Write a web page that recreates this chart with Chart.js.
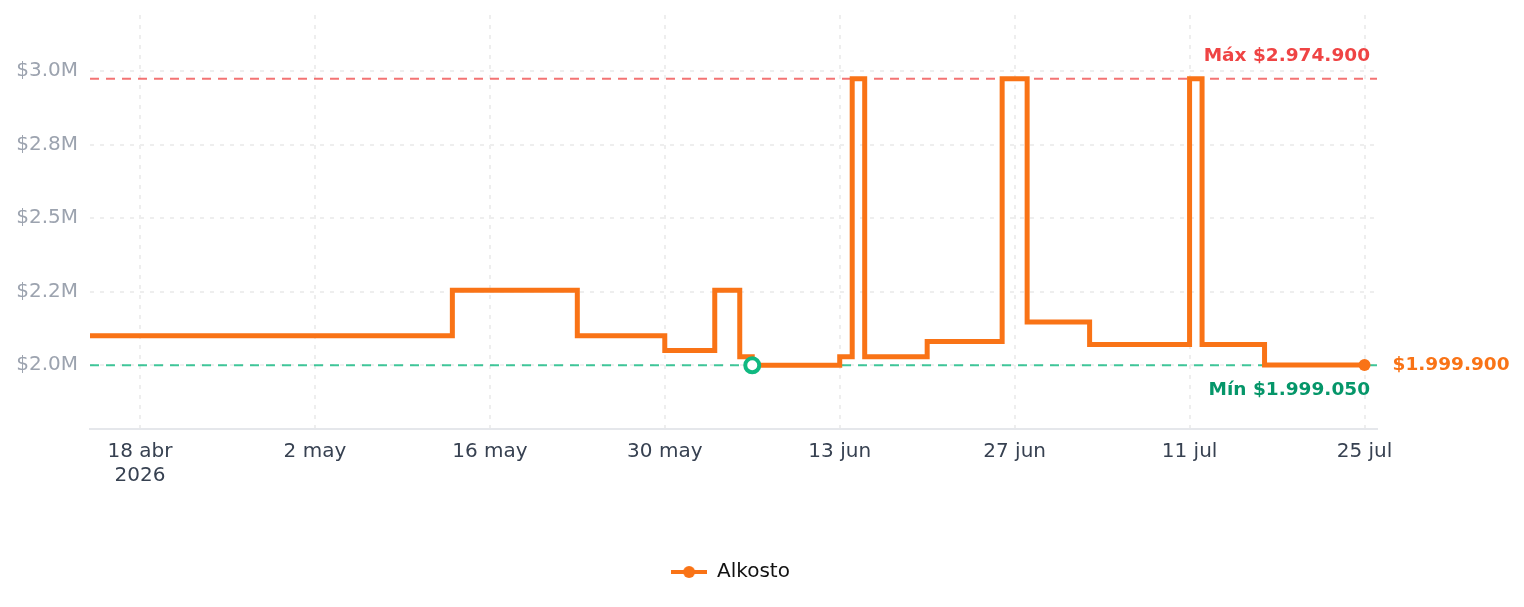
<!DOCTYPE html>
<html>
<head>
<meta charset="utf-8">
<script src="https://cdn.jsdelivr.net/npm/chart.js@4.4.1/dist/chart.umd.min.js"></script>
<style>
  html, body { margin: 0; padding: 0; background: #fff; }
  #wrap { width: 1524px; height: 607px; }
</style>
</head>
<body>
<div id="wrap"><canvas id="priceChart"></canvas></div>
<script>
// price history (Alkosto) - each date is when the price changed
const startDate = '2026-04-14';
const endDate = '2026-07-26';
const changeDates = ['2026-04-14', '2026-05-13', '2026-05-23', '2026-05-30', '2026-06-03', '2026-06-05',
  '2026-06-06', '2026-06-13', '2026-06-14', '2026-06-15', '2026-06-20', '2026-06-26', '2026-06-28',
  '2026-07-03', '2026-07-11', '2026-07-12', '2026-07-17', '2026-07-25'];
const alkostoPrices = [2099900, 2254900, 2099900, 2049900, 2254900, 2027900,
  1999050, 2027900, 2974900, 2027900, 2079900, 2974900, 2146900,
  2069900, 2974900, 2069900, 1999900, 1999900];

const tickDates = ['2026-04-18', '2026-05-02', '2026-05-16', '2026-05-30', '2026-06-13', '2026-06-27', '2026-07-11', '2026-07-25'];
const tickLabels = [['18 abr', '2026'], '2 may', '16 may', '30 may', '13 jun', '27 jun', '11 jul', '25 jul'];
const yTickValues = [2000000, 2250000, 2500000, 2750000, 3000000];
const yTickLabels = ['$2.0M', '$2.2M', '$2.5M', '$2.8M', '$3.0M'];

const maxPrice = 2974900;
const minPrice = 1999050;
const minDate = '2026-06-06';
const lastPrice = 1999900;

const ORANGE = '#f97316';
const FONT = 'DejaVu Sans';

function dayOf(s) {
  const a = s.split('-').map(Number);
  const b = startDate.split('-').map(Number);
  return Math.round((Date.UTC(a[0], a[1] - 1, a[2]) - Date.UTC(b[0], b[1] - 1, b[2])) / 86400000);
}
function fmt(n) {
  return '$' + n.toString().replace(/\B(?=(\d{3})+(?!\d))/g, '.');
}

const lastDay = dayOf(endDate);
const points = changeDates.map((d, i) => ({ x: dayOf(d), y: alkostoPrices[i] }));

// legend icon: line with a dot
const legendIcon = document.createElement('canvas');
legendIcon.width = 36; legendIcon.height = 14;
(function () {
  const c = legendIcon.getContext('2d');
  c.strokeStyle = ORANGE; c.lineWidth = 4;
  c.beginPath(); c.moveTo(0, 7); c.lineTo(36, 7); c.stroke();
  c.fillStyle = ORANGE;
  c.beginPath(); c.arc(18, 7, 6, 0, Math.PI * 2); c.fill();
})();

const labelPlugin = {
  id: 'priceLabels',
  afterLayout(chart) {
    // legend sits a bit right of the canvas centre
    if (chart.legend) { chart.legend.left += 42; chart.legend.right += 42; }
  },
  afterDatasetsDraw(chart) {
    const { ctx, chartArea, scales: { x, y } } = chart;
    ctx.save();
    ctx.font = 'bold 18.5px "' + FONT + '"';
    ctx.textAlign = 'right';
    ctx.textBaseline = 'alphabetic';
    ctx.fillStyle = '#ef4444';
    ctx.fillText('Máx ' + fmt(maxPrice), chartArea.right - 7, y.getPixelForValue(maxPrice) - 18);
    ctx.fillStyle = '#059669';
    ctx.fillText('Mín ' + fmt(minPrice), chartArea.right - 7, y.getPixelForValue(minPrice) + 30);
    ctx.textAlign = 'left';
    ctx.textBaseline = 'middle';
    ctx.fillStyle = ORANGE;
    const last = points[points.length - 1];
    ctx.fillText(fmt(lastPrice), x.getPixelForValue(last.x) + 28, y.getPixelForValue(lastPrice));
    ctx.restore();
  }
};

new Chart(document.getElementById('priceChart').getContext('2d'), {
  type: 'line',
  data: {
    datasets: [{
      label: 'Alkosto',
      data: points,
      stepped: true,
      borderColor: ORANGE,
      backgroundColor: ORANGE,
      borderWidth: 5,
      pointRadius: ctx => ctx.dataIndex === points.length - 1 ? 6 : 0,
      pointBorderWidth: 0,
      pointBackgroundColor: ORANGE,
      order: 1
    }, {
      label: 'max',
      data: [{ x: 0, y: maxPrice }, { x: lastDay, y: maxPrice }],
      borderColor: 'rgba(239, 68, 68, 0.75)',
      borderWidth: 2,
      borderDash: [9, 7],
      pointRadius: 0,
      order: 2
    }, {
      label: 'min',
      data: [{ x: 0, y: minPrice }, { x: lastDay, y: minPrice }],
      borderColor: 'rgba(16, 185, 129, 0.8)',
      borderWidth: 2,
      borderDash: [9, 7],
      pointRadius: 0,
      order: 2
    }, {
      label: 'minPoint',
      data: [{ x: dayOf(minDate), y: minPrice }],
      showLine: false,
      pointRadius: 7,
      pointBorderWidth: 4,
      pointBorderColor: '#10b981',
      pointBackgroundColor: '#ffffff',
      order: 0
    }]
  },
  options: {
    responsive: true,
    maintainAspectRatio: false,
    animation: false,
    layout: { padding: { top: 15, right: 147, bottom: 15, left: 0 } },
    plugins: {
      tooltip: { enabled: false },
      legend: {
        position: 'bottom',
        labels: {
          font: { family: FONT, size: 20 },
          color: '#111111',
          usePointStyle: true,
          pointStyleWidth: 36,
          filter: item => item.datasetIndex === 0,
          generateLabels: chart => Chart.defaults.plugins.legend.labels.generateLabels(chart)
            .map(item => Object.assign(item, { pointStyle: legendIcon }))
        }
      }
    },
    scales: {
      x: {
        type: 'linear',
        min: 0,
        max: lastDay,
        afterBuildTicks: scale => { scale.ticks = tickDates.map(d => ({ value: dayOf(d) })); },
        afterFit: scale => { scale.height = 123; scale.paddingLeft = 0; scale.paddingRight = 0; },
        ticks: {
          callback: (v, i) => tickLabels[i],
          font: { family: FONT, size: 20 },
          color: '#374151',
          padding: 11,
          maxRotation: 0
        },
        grid: { color: '#eeeeee', lineWidth: 2, drawTicks: false },
        border: { display: true, color: '#e5e7eb', width: 2, dash: [4, 6] }
      },
      y: {
        min: 1782300,
        max: 3191600,
        afterBuildTicks: scale => { scale.ticks = yTickValues.map(v => ({ value: v })); },
        afterFit: scale => { scale.width = 90; scale.paddingTop = 0; scale.paddingBottom = 0; },
        ticks: {
          callback: (v, i) => yTickLabels[i],
          font: { family: FONT, size: 20 },
          color: '#9ca3af',
          padding: 12
        },
        grid: { color: '#eeeeee', lineWidth: 2, drawTicks: false },
        border: { display: false, dash: [4, 6] }
      }
    }
  },
  plugins: [labelPlugin]
});
</script>
</body>
</html>
